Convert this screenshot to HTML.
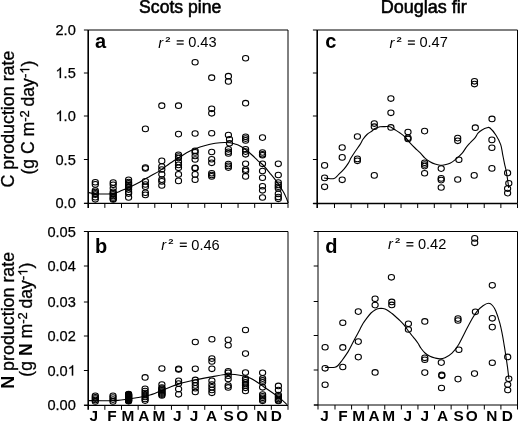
<!DOCTYPE html><html><head><meta charset="utf-8"><style>html,body{margin:0;padding:0;background:#fff;}svg{display:block;will-change:transform;}text{font-family:"Liberation Sans",sans-serif;fill:#000;} .t1{stroke:#000;stroke-width:0.55px;} .t2{stroke:#000;stroke-width:0.3px;} .t3{stroke:#000;stroke-width:0.25px;}</style></head><body>
<svg width="518" height="422" viewBox="0 0 518 422">
<rect width="518" height="422" fill="#fff"/>
<text class="t1" x="180.2" y="13.2" font-size="17.6" text-anchor="middle">Scots pine</text>
<text class="t1" x="423.85" y="13.2" font-size="18.0" text-anchor="middle">Douglas fir</text>
<g>
<text class="t2" transform="translate(14.40,119.05) rotate(-90)" font-size="17.85" text-anchor="middle">C production rate</text>
<text class="t2" transform="translate(33.90,117.60) rotate(-90)" font-size="17.6" text-anchor="middle">(g C m<tspan font-size="13" dy="-4.6">-2</tspan><tspan dy="4.6" dx="-1.2"> day</tspan><tspan font-size="13" dy="-4.6">-<tspan class="one1" style="fill:none;stroke:none">1</tspan></tspan><tspan dy="4.6">)</tspan></text>
<path transform="translate(33.90,117.60) rotate(-90) translate(43.830,-4.600) scale(13)" d="M0.375,0 L0.287,0 L0.287,-0.56 C0.266,-0.54 0.238,-0.52 0.204,-0.50 C0.170,-0.48 0.139,-0.465 0.112,-0.455 L0.112,-0.54 C0.16,-0.562 0.203,-0.590 0.239,-0.622 C0.275,-0.654 0.301,-0.686 0.316,-0.716 L0.375,-0.716 Z" fill="#000" stroke="#000" stroke-width="0.0231"/>
</g>
<g>
<text class="t2" transform="translate(13.80,320.30) rotate(-90)" font-size="17.85" text-anchor="middle"><tspan font-weight="bold" style="stroke-width:0">N</tspan> production rate</text>
<text class="t2" transform="translate(32.00,319.70) rotate(-90)" font-size="17.6" text-anchor="middle">(g <tspan font-weight="bold" style="stroke-width:0">N</tspan> m<tspan font-size="13" dy="-4.6">-2</tspan><tspan dy="4.6" dx="-1.2"> day</tspan><tspan font-size="13" dy="-4.6">-<tspan class="one1" style="fill:none;stroke:none">1</tspan></tspan><tspan dy="4.6">)</tspan></text>
<path transform="translate(32.00,319.70) rotate(-90) translate(43.845,-4.600) scale(13)" d="M0.375,0 L0.287,0 L0.287,-0.56 C0.266,-0.54 0.238,-0.52 0.204,-0.50 C0.170,-0.48 0.139,-0.465 0.112,-0.455 L0.112,-0.54 C0.16,-0.562 0.203,-0.590 0.239,-0.622 C0.275,-0.654 0.301,-0.686 0.316,-0.716 L0.375,-0.716 Z" fill="#000" stroke="#000" stroke-width="0.0231"/>
</g>
<path d="M88.20,30.00 H288.00 V203.40" fill="none" stroke="#000" stroke-width="1"/>
<path d="M88.20,30.00 V207.90" fill="none" stroke="#000" stroke-width="1.60"/>
<path d="M84.20,203.40 H288.00" fill="none" stroke="#000" stroke-width="1.30"/>
<path d="M83.90,203.40 H88.20" stroke="#000" stroke-width="1"/>
<path d="M83.90,159.50 H88.20" stroke="#000" stroke-width="1"/>
<path d="M83.90,116.00 H88.20" stroke="#000" stroke-width="1"/>
<path d="M83.90,73.00 H88.20" stroke="#000" stroke-width="1"/>
<path d="M83.90,30.00 H88.20" stroke="#000" stroke-width="1"/>
<path d="M104.85,203.40 V207.90" stroke="#000" stroke-width="1"/>
<path d="M121.50,203.40 V207.90" stroke="#000" stroke-width="1"/>
<path d="M138.15,203.40 V207.90" stroke="#000" stroke-width="1"/>
<path d="M154.80,203.40 V207.90" stroke="#000" stroke-width="1"/>
<path d="M171.45,203.40 V207.90" stroke="#000" stroke-width="1"/>
<path d="M188.10,203.40 V207.90" stroke="#000" stroke-width="1"/>
<path d="M204.75,203.40 V207.90" stroke="#000" stroke-width="1"/>
<path d="M221.40,203.40 V207.90" stroke="#000" stroke-width="1"/>
<path d="M238.05,203.40 V207.90" stroke="#000" stroke-width="1"/>
<path d="M254.70,203.40 V207.90" stroke="#000" stroke-width="1"/>
<path d="M271.35,203.40 V207.90" stroke="#000" stroke-width="1"/>
<path d="M288.00,203.40 V207.90" stroke="#000" stroke-width="1"/>
<path d="M88.20,231.50 H288.00 V405.30" fill="none" stroke="#000" stroke-width="1"/>
<path d="M88.20,231.50 V409.80" fill="none" stroke="#000" stroke-width="1.60"/>
<path d="M84.20,405.30 H288.00" fill="none" stroke="#000" stroke-width="1.30"/>
<path d="M83.90,405.20 H88.20" stroke="#000" stroke-width="1"/>
<path d="M83.90,370.50 H88.20" stroke="#000" stroke-width="1"/>
<path d="M83.90,336.00 H88.20" stroke="#000" stroke-width="1"/>
<path d="M83.90,302.00 H88.20" stroke="#000" stroke-width="1"/>
<path d="M83.90,266.00 H88.20" stroke="#000" stroke-width="1"/>
<path d="M83.90,231.50 H88.20" stroke="#000" stroke-width="1"/>
<path d="M104.85,405.30 V409.80" stroke="#000" stroke-width="1"/>
<path d="M121.50,405.30 V409.80" stroke="#000" stroke-width="1"/>
<path d="M138.15,405.30 V409.80" stroke="#000" stroke-width="1"/>
<path d="M154.80,405.30 V409.80" stroke="#000" stroke-width="1"/>
<path d="M171.45,405.30 V409.80" stroke="#000" stroke-width="1"/>
<path d="M188.10,405.30 V409.80" stroke="#000" stroke-width="1"/>
<path d="M204.75,405.30 V409.80" stroke="#000" stroke-width="1"/>
<path d="M221.40,405.30 V409.80" stroke="#000" stroke-width="1"/>
<path d="M238.05,405.30 V409.80" stroke="#000" stroke-width="1"/>
<path d="M254.70,405.30 V409.80" stroke="#000" stroke-width="1"/>
<path d="M271.35,405.30 V409.80" stroke="#000" stroke-width="1"/>
<path d="M288.00,405.30 V409.80" stroke="#000" stroke-width="1"/>
<path d="M317.20,30.00 H517.50 V203.50" fill="none" stroke="#000" stroke-width="1"/>
<path d="M317.20,30.00 V208.00" fill="none" stroke="#000" stroke-width="1.60"/>
<path d="M313.20,203.50 H517.50" fill="none" stroke="#000" stroke-width="1.30"/>
<path d="M312.90,203.50 H317.20" stroke="#000" stroke-width="1"/>
<path d="M312.90,159.50 H317.20" stroke="#000" stroke-width="1"/>
<path d="M312.90,116.00 H317.20" stroke="#000" stroke-width="1"/>
<path d="M312.90,73.00 H317.20" stroke="#000" stroke-width="1"/>
<path d="M312.90,30.00 H317.20" stroke="#000" stroke-width="1"/>
<path d="M334.49,203.50 V208.00" stroke="#000" stroke-width="1"/>
<path d="M351.12,203.50 V208.00" stroke="#000" stroke-width="1"/>
<path d="M367.76,203.50 V208.00" stroke="#000" stroke-width="1"/>
<path d="M384.40,203.50 V208.00" stroke="#000" stroke-width="1"/>
<path d="M401.04,203.50 V208.00" stroke="#000" stroke-width="1"/>
<path d="M417.68,203.50 V208.00" stroke="#000" stroke-width="1"/>
<path d="M434.31,203.50 V208.00" stroke="#000" stroke-width="1"/>
<path d="M450.95,203.50 V208.00" stroke="#000" stroke-width="1"/>
<path d="M467.59,203.50 V208.00" stroke="#000" stroke-width="1"/>
<path d="M484.23,203.50 V208.00" stroke="#000" stroke-width="1"/>
<path d="M500.86,203.50 V208.00" stroke="#000" stroke-width="1"/>
<path d="M517.50,203.50 V208.00" stroke="#000" stroke-width="1"/>
<path d="M318.00,231.50 H517.50 V405.00" fill="none" stroke="#000" stroke-width="1"/>
<path d="M318.00,231.50 V409.50" fill="none" stroke="#000" stroke-width="1.00"/>
<path d="M314.00,405.00 H517.50" fill="none" stroke="#000" stroke-width="1.00"/>
<path d="M313.70,405.00 H318.00" stroke="#000" stroke-width="1"/>
<path d="M313.70,370.00 H318.00" stroke="#000" stroke-width="1"/>
<path d="M313.70,335.50 H318.00" stroke="#000" stroke-width="1"/>
<path d="M313.70,301.50 H318.00" stroke="#000" stroke-width="1"/>
<path d="M313.70,266.00 H318.00" stroke="#000" stroke-width="1"/>
<path d="M313.70,231.50 H318.00" stroke="#000" stroke-width="1"/>
<path d="M334.99,405.00 V409.50" stroke="#000" stroke-width="1"/>
<path d="M351.58,405.00 V409.50" stroke="#000" stroke-width="1"/>
<path d="M368.17,405.00 V409.50" stroke="#000" stroke-width="1"/>
<path d="M384.77,405.00 V409.50" stroke="#000" stroke-width="1"/>
<path d="M401.36,405.00 V409.50" stroke="#000" stroke-width="1"/>
<path d="M417.95,405.00 V409.50" stroke="#000" stroke-width="1"/>
<path d="M434.54,405.00 V409.50" stroke="#000" stroke-width="1"/>
<path d="M451.13,405.00 V409.50" stroke="#000" stroke-width="1"/>
<path d="M467.73,405.00 V409.50" stroke="#000" stroke-width="1"/>
<path d="M484.32,405.00 V409.50" stroke="#000" stroke-width="1"/>
<path d="M500.91,405.00 V409.50" stroke="#000" stroke-width="1"/>
<path d="M517.50,405.00 V409.50" stroke="#000" stroke-width="1"/>
<text class="t3" x="55.51" y="208.45" font-size="14.60">0.0</text>
<text class="t3" x="55.51" y="164.55" font-size="14.60">0.5</text>
<path transform="translate(55.51,121.05) scale(14.600)" d="M0.375,0 L0.287,0 L0.287,-0.56 C0.266,-0.54 0.238,-0.52 0.204,-0.50 C0.170,-0.48 0.139,-0.465 0.112,-0.455 L0.112,-0.54 C0.16,-0.562 0.203,-0.590 0.239,-0.622 C0.275,-0.654 0.301,-0.686 0.316,-0.716 L0.375,-0.716 Z" fill="#000" stroke="#000" stroke-width="0.017"/>
<text class="t3" x="63.62" y="121.05" font-size="14.60">.0</text>
<path transform="translate(55.51,78.05) scale(14.600)" d="M0.375,0 L0.287,0 L0.287,-0.56 C0.266,-0.54 0.238,-0.52 0.204,-0.50 C0.170,-0.48 0.139,-0.465 0.112,-0.455 L0.112,-0.54 C0.16,-0.562 0.203,-0.590 0.239,-0.622 C0.275,-0.654 0.301,-0.686 0.316,-0.716 L0.375,-0.716 Z" fill="#000" stroke="#000" stroke-width="0.017"/>
<text class="t3" x="63.62" y="78.05" font-size="14.60">.5</text>
<text class="t3" x="55.51" y="35.05" font-size="14.60">2.0</text>
<text class="t3" x="47.39" y="410.30" font-size="14.60">0.00</text>
<text class="t3" x="47.39" y="375.60" font-size="14.60">0.0</text>
<path transform="translate(67.68,375.60) scale(14.600)" d="M0.375,0 L0.287,0 L0.287,-0.56 C0.266,-0.54 0.238,-0.52 0.204,-0.50 C0.170,-0.48 0.139,-0.465 0.112,-0.455 L0.112,-0.54 C0.16,-0.562 0.203,-0.590 0.239,-0.622 C0.275,-0.654 0.301,-0.686 0.316,-0.716 L0.375,-0.716 Z" fill="#000" stroke="#000" stroke-width="0.017"/>
<text class="t3" x="47.39" y="341.10" font-size="14.60">0.02</text>
<text class="t3" x="47.39" y="307.10" font-size="14.60">0.03</text>
<text class="t3" x="47.39" y="271.10" font-size="14.60">0.04</text>
<text class="t3" x="47.39" y="236.60" font-size="14.60">0.05</text>
<text x="93.80" y="421.4" font-size="15.4" font-weight="bold" text-anchor="middle">J</text>
<text x="111.90" y="421.4" font-size="15.4" font-weight="bold" text-anchor="middle">F</text>
<text x="127.85" y="421.4" font-size="15.4" font-weight="bold" text-anchor="middle">M</text>
<text x="143.70" y="421.4" font-size="15.4" font-weight="bold" text-anchor="middle">A</text>
<text x="159.00" y="421.4" font-size="15.4" font-weight="bold" text-anchor="middle">M</text>
<text x="177.40" y="421.4" font-size="15.4" font-weight="bold" text-anchor="middle">J</text>
<text x="194.00" y="421.4" font-size="15.4" font-weight="bold" text-anchor="middle">J</text>
<text x="211.60" y="421.4" font-size="15.4" font-weight="bold" text-anchor="middle">A</text>
<text x="228.70" y="421.4" font-size="15.4" font-weight="bold" text-anchor="middle">S</text>
<text x="242.20" y="421.4" font-size="15.4" font-weight="bold" text-anchor="middle">O</text>
<text x="261.80" y="421.4" font-size="15.4" font-weight="bold" text-anchor="middle">N</text>
<text x="276.35" y="421.4" font-size="15.4" font-weight="bold" text-anchor="middle">D</text>
<text x="324.50" y="421.4" font-size="15.4" font-weight="bold" text-anchor="middle">J</text>
<text x="342.90" y="421.4" font-size="15.4" font-weight="bold" text-anchor="middle">F</text>
<text x="358.70" y="421.4" font-size="15.4" font-weight="bold" text-anchor="middle">M</text>
<text x="373.95" y="421.4" font-size="15.4" font-weight="bold" text-anchor="middle">A</text>
<text x="388.60" y="421.4" font-size="15.4" font-weight="bold" text-anchor="middle">M</text>
<text x="407.90" y="421.4" font-size="15.4" font-weight="bold" text-anchor="middle">J</text>
<text x="424.70" y="421.4" font-size="15.4" font-weight="bold" text-anchor="middle">J</text>
<text x="442.60" y="421.4" font-size="15.4" font-weight="bold" text-anchor="middle">A</text>
<text x="458.70" y="421.4" font-size="15.4" font-weight="bold" text-anchor="middle">S</text>
<text x="471.65" y="421.4" font-size="15.4" font-weight="bold" text-anchor="middle">O</text>
<text x="491.80" y="421.4" font-size="15.4" font-weight="bold" text-anchor="middle">N</text>
<text x="507.20" y="421.4" font-size="15.4" font-weight="bold" text-anchor="middle">D</text>
<text x="95" y="47.5" font-size="20" font-weight="bold">a</text>
<text x="95" y="252.6" font-size="20" font-weight="bold">b</text>
<text x="325.3" y="47.8" font-size="20" font-weight="bold">c</text>
<text x="325.2" y="252.6" font-size="20" font-weight="bold">d</text>
<text x="158.20" y="47.60" font-size="14.6" font-style="italic">r</text><text x="0.00" y="41.60" font-size="7.6" font-weight="bold" transform="translate(165.20,0) scale(1.25,1)">2</text><rect x="176.70" y="40.25" width="7.0" height="1.25" fill="#000"/><rect x="176.70" y="43.45" width="7.0" height="1.25" fill="#000"/><text x="188.20" y="47.20" font-size="14.6">0.43</text>
<text x="161.30" y="249.90" font-size="14.6" font-style="italic">r</text><text x="0.00" y="243.90" font-size="7.6" font-weight="bold" transform="translate(168.30,0) scale(1.25,1)">2</text><rect x="179.80" y="242.55" width="7.0" height="1.25" fill="#000"/><rect x="179.80" y="245.75" width="7.0" height="1.25" fill="#000"/><text x="191.30" y="249.50" font-size="14.6">0.46</text>
<text x="389.40" y="47.70" font-size="14.6" font-style="italic">r</text><text x="0.00" y="41.70" font-size="7.6" font-weight="bold" transform="translate(396.40,0) scale(1.25,1)">2</text><rect x="407.90" y="40.35" width="7.0" height="1.25" fill="#000"/><rect x="407.90" y="43.55" width="7.0" height="1.25" fill="#000"/><text x="419.40" y="47.30" font-size="14.6">0.47</text>
<text x="387.90" y="249.40" font-size="14.6" font-style="italic">r</text><text x="0.00" y="243.40" font-size="7.6" font-weight="bold" transform="translate(394.90,0) scale(1.25,1)">2</text><rect x="406.40" y="242.05" width="7.0" height="1.25" fill="#000"/><rect x="406.40" y="245.25" width="7.0" height="1.25" fill="#000"/><text x="417.90" y="249.00" font-size="14.6">0.42</text>
<path d="M88.00,192.40 C88.83,192.58 91.00,193.23 93.00,193.50 C95.00,193.77 97.50,193.92 100.00,194.00 C102.50,194.08 105.83,194.07 108.00,194.00 C110.17,193.93 111.50,193.83 113.00,193.60 C114.50,193.37 115.83,192.98 117.00,192.60 C118.17,192.22 117.83,192.25 120.00,191.30 C122.17,190.35 126.67,188.47 130.00,186.90 C133.33,185.33 136.67,183.67 140.00,181.90 C143.33,180.13 146.67,178.18 150.00,176.30 C153.33,174.42 156.67,172.78 160.00,170.60 C163.33,168.42 166.67,165.48 170.00,163.20 C173.33,160.92 176.67,158.92 180.00,156.90 C183.33,154.88 186.67,152.73 190.00,151.10 C193.33,149.47 196.67,148.25 200.00,147.10 C203.33,145.95 206.67,144.93 210.00,144.20 C213.33,143.47 216.67,142.93 220.00,142.70 C223.33,142.47 227.33,142.53 230.00,142.80 C232.67,143.07 234.33,143.78 236.00,144.30 C237.67,144.82 238.50,145.12 240.00,145.90 C241.50,146.68 243.00,147.48 245.00,149.00 C247.00,150.52 249.83,153.03 252.00,155.00 C254.17,156.97 256.17,159.13 258.00,160.80 C259.83,162.47 261.00,162.92 263.00,165.00 C265.00,167.08 267.83,170.68 270.00,173.30 C272.17,175.92 274.33,178.50 276.00,180.70 C277.67,182.90 278.67,184.43 280.00,186.50 C281.33,188.57 282.83,190.90 284.00,193.10 C285.17,195.30 286.30,198.05 287.00,199.70 C287.70,201.35 288.00,202.45 288.20,203.00" fill="none" stroke="#000" stroke-width="1.1"/>
<path d="M88.00,400.60 C90.67,400.62 99.00,400.73 104.00,400.70 C109.00,400.67 112.83,400.85 118.00,400.40 C123.17,399.95 129.67,398.90 135.00,398.00 C140.33,397.10 144.50,396.68 150.00,395.00 C155.50,393.32 163.00,389.80 168.00,387.90 C173.00,386.00 175.50,384.92 180.00,383.60 C184.50,382.28 190.00,381.08 195.00,380.00 C200.00,378.92 205.00,378.02 210.00,377.10 C215.00,376.18 220.83,374.93 225.00,374.50 C229.17,374.07 230.83,373.93 235.00,374.50 C239.17,375.07 245.50,376.05 250.00,377.90 C254.50,379.75 257.33,382.48 262.00,385.60 C266.67,388.72 273.83,393.45 278.00,396.60 C282.17,399.75 285.50,403.18 287.00,404.50" fill="none" stroke="#000" stroke-width="1.1"/>
<path d="M324.00,178.00 C324.50,178.07 325.33,178.30 327.00,178.40 C328.67,178.50 332.12,179.20 334.00,178.60 C335.88,178.00 336.63,176.38 338.30,174.80 C339.97,173.22 342.35,171.00 344.00,169.10 C345.65,167.20 347.02,165.28 348.20,163.40 C349.38,161.52 349.97,159.75 351.10,157.80 C352.23,155.85 353.52,153.90 355.00,151.70 C356.48,149.50 358.67,146.67 360.00,144.60 C361.33,142.53 361.83,140.98 363.00,139.30 C364.17,137.62 365.50,135.88 367.00,134.50 C368.50,133.12 370.67,131.98 372.00,131.00 C373.33,130.02 373.67,129.30 375.00,128.60 C376.33,127.90 378.33,127.13 380.00,126.80 C381.67,126.47 383.33,126.60 385.00,126.60 C386.67,126.60 388.33,126.27 390.00,126.80 C391.67,127.33 393.33,128.77 395.00,129.80 C396.67,130.83 398.33,131.80 400.00,133.00 C401.67,134.20 403.33,135.37 405.00,137.00 C406.67,138.63 408.33,140.97 410.00,142.80 C411.67,144.63 413.33,146.37 415.00,148.00 C416.67,149.63 418.33,150.90 420.00,152.60 C421.67,154.30 423.33,156.68 425.00,158.20 C426.67,159.72 428.33,160.72 430.00,161.70 C431.67,162.68 433.33,163.50 435.00,164.10 C436.67,164.70 438.33,165.20 440.00,165.30 C441.67,165.40 443.33,165.05 445.00,164.70 C446.67,164.35 448.33,164.00 450.00,163.20 C451.67,162.40 453.00,161.53 455.00,159.90 C457.00,158.27 460.17,155.45 462.00,153.40 C463.83,151.35 464.67,149.33 466.00,147.60 C467.33,145.87 468.50,144.63 470.00,143.00 C471.50,141.37 473.67,139.43 475.00,137.80 C476.33,136.17 476.83,134.50 478.00,133.20 C479.17,131.90 480.50,130.90 482.00,130.00 C483.50,129.10 485.67,128.13 487.00,127.80 C488.33,127.47 488.50,126.77 490.00,128.00 C491.50,129.23 494.22,132.43 496.00,135.20 C497.78,137.97 499.60,141.45 500.70,144.60 C501.80,147.75 501.97,150.93 502.60,154.10 C503.23,157.27 503.87,160.60 504.50,163.60 C505.13,166.60 505.77,168.62 506.40,172.10 C507.03,175.58 507.92,181.85 508.30,184.50 C508.68,187.15 508.63,187.42 508.70,188.00" fill="none" stroke="#000" stroke-width="1.1"/>
<path d="M325.00,367.30 C325.83,367.33 328.33,367.52 330.00,367.50 C331.67,367.48 333.67,367.53 335.00,367.20 C336.33,366.87 336.83,366.62 338.00,365.50 C339.17,364.38 340.33,362.77 342.00,360.50 C343.67,358.23 346.33,354.60 348.00,351.90 C349.67,349.20 350.83,346.52 352.00,344.30 C353.17,342.08 353.67,341.12 355.00,338.60 C356.33,336.08 358.67,331.72 360.00,329.20 C361.33,326.68 361.83,325.40 363.00,323.50 C364.17,321.60 365.67,319.55 367.00,317.80 C368.33,316.05 369.67,314.32 371.00,313.00 C372.33,311.68 373.67,310.65 375.00,309.90 C376.33,309.15 377.67,308.73 379.00,308.50 C380.33,308.27 381.67,308.27 383.00,308.50 C384.33,308.73 385.50,309.07 387.00,309.90 C388.50,310.73 390.50,312.32 392.00,313.50 C393.50,314.68 394.67,315.82 396.00,317.00 C397.33,318.18 398.67,319.28 400.00,320.60 C401.33,321.92 402.67,323.25 404.00,324.90 C405.33,326.55 406.67,328.73 408.00,330.50 C409.33,332.27 410.83,334.07 412.00,335.50 C413.17,336.93 414.00,337.80 415.00,339.10 C416.00,340.40 417.00,341.77 418.00,343.30 C419.00,344.83 419.83,346.68 421.00,348.30 C422.17,349.92 423.50,351.67 425.00,353.00 C426.50,354.33 428.33,355.47 430.00,356.30 C431.67,357.13 433.33,357.57 435.00,358.00 C436.67,358.43 438.33,358.93 440.00,358.90 C441.67,358.87 443.00,358.77 445.00,357.80 C447.00,356.83 449.83,355.15 452.00,353.10 C454.17,351.05 455.83,348.98 458.00,345.50 C460.17,342.02 462.67,336.62 465.00,332.20 C467.33,327.78 470.00,322.47 472.00,319.00 C474.00,315.53 475.17,313.62 477.00,311.40 C478.83,309.18 481.05,307.05 483.00,305.70 C484.95,304.35 487.12,303.33 488.70,303.30 C490.28,303.27 491.32,304.22 492.50,305.50 C493.68,306.78 494.57,308.03 495.80,311.00 C497.03,313.97 498.80,319.32 499.90,323.30 C501.00,327.28 501.70,331.32 502.40,334.90 C503.10,338.48 503.55,341.48 504.10,344.80 C504.65,348.12 505.15,351.20 505.70,354.80 C506.25,358.40 506.92,362.82 507.40,366.40 C507.88,369.98 508.35,374.20 508.60,376.30 C508.85,378.40 508.85,378.55 508.90,379.00" fill="none" stroke="#000" stroke-width="1.1"/>
<ellipse cx="95.3" cy="182.2" rx="3.10" ry="2.80" fill="none" stroke="#000" stroke-width="1.05"/>
<ellipse cx="95.3" cy="184.4" rx="3.10" ry="2.80" fill="none" stroke="#000" stroke-width="1.05"/>
<ellipse cx="95.3" cy="190.6" rx="3.10" ry="2.80" fill="none" stroke="#000" stroke-width="1.05"/>
<ellipse cx="95.3" cy="192.0" rx="3.10" ry="2.80" fill="none" stroke="#000" stroke-width="1.05"/>
<ellipse cx="95.3" cy="193.4" rx="3.10" ry="2.80" fill="none" stroke="#000" stroke-width="1.05"/>
<ellipse cx="95.3" cy="194.6" rx="3.10" ry="2.80" fill="none" stroke="#000" stroke-width="1.05"/>
<ellipse cx="95.3" cy="197.2" rx="3.10" ry="2.80" fill="none" stroke="#000" stroke-width="1.05"/>
<ellipse cx="95.3" cy="199.3" rx="3.10" ry="2.80" fill="none" stroke="#000" stroke-width="1.05"/>
<ellipse cx="113.2" cy="182.5" rx="3.10" ry="2.80" fill="none" stroke="#000" stroke-width="1.05"/>
<ellipse cx="113.2" cy="184.8" rx="3.10" ry="2.80" fill="none" stroke="#000" stroke-width="1.05"/>
<ellipse cx="113.2" cy="188.3" rx="3.10" ry="2.80" fill="none" stroke="#000" stroke-width="1.05"/>
<ellipse cx="113.2" cy="191.8" rx="3.10" ry="2.80" fill="none" stroke="#000" stroke-width="1.05"/>
<ellipse cx="113.2" cy="193.2" rx="3.10" ry="2.80" fill="none" stroke="#000" stroke-width="1.05"/>
<ellipse cx="113.2" cy="194.6" rx="3.10" ry="2.80" fill="none" stroke="#000" stroke-width="1.05"/>
<ellipse cx="113.2" cy="196.0" rx="3.10" ry="2.80" fill="none" stroke="#000" stroke-width="1.05"/>
<ellipse cx="113.2" cy="197.4" rx="3.10" ry="2.80" fill="none" stroke="#000" stroke-width="1.05"/>
<ellipse cx="113.2" cy="198.8" rx="3.10" ry="2.80" fill="none" stroke="#000" stroke-width="1.05"/>
<ellipse cx="113.2" cy="199.4" rx="3.10" ry="2.80" fill="none" stroke="#000" stroke-width="1.05"/>
<ellipse cx="128.6" cy="179.8" rx="3.10" ry="2.80" fill="none" stroke="#000" stroke-width="1.05"/>
<ellipse cx="128.6" cy="182.0" rx="3.10" ry="2.80" fill="none" stroke="#000" stroke-width="1.05"/>
<ellipse cx="128.6" cy="183.4" rx="3.10" ry="2.80" fill="none" stroke="#000" stroke-width="1.05"/>
<ellipse cx="128.6" cy="184.8" rx="3.10" ry="2.80" fill="none" stroke="#000" stroke-width="1.05"/>
<ellipse cx="128.6" cy="186.2" rx="3.10" ry="2.80" fill="none" stroke="#000" stroke-width="1.05"/>
<ellipse cx="128.6" cy="187.6" rx="3.10" ry="2.80" fill="none" stroke="#000" stroke-width="1.05"/>
<ellipse cx="128.6" cy="189.6" rx="3.10" ry="2.80" fill="none" stroke="#000" stroke-width="1.05"/>
<ellipse cx="128.6" cy="192.0" rx="3.10" ry="2.80" fill="none" stroke="#000" stroke-width="1.05"/>
<ellipse cx="128.6" cy="193.6" rx="3.10" ry="2.80" fill="none" stroke="#000" stroke-width="1.05"/>
<ellipse cx="128.6" cy="197.4" rx="3.10" ry="2.80" fill="none" stroke="#000" stroke-width="1.05"/>
<ellipse cx="145.4" cy="128.9" rx="3.10" ry="2.80" fill="none" stroke="#000" stroke-width="1.05"/>
<ellipse cx="145.4" cy="167.6" rx="3.10" ry="2.80" fill="none" stroke="#000" stroke-width="1.05"/>
<ellipse cx="145.4" cy="168.5" rx="3.10" ry="2.80" fill="none" stroke="#000" stroke-width="1.05"/>
<ellipse cx="145.4" cy="181.3" rx="3.10" ry="2.80" fill="none" stroke="#000" stroke-width="1.05"/>
<ellipse cx="145.4" cy="184.5" rx="3.10" ry="2.80" fill="none" stroke="#000" stroke-width="1.05"/>
<ellipse cx="145.4" cy="186.7" rx="3.10" ry="2.80" fill="none" stroke="#000" stroke-width="1.05"/>
<ellipse cx="145.4" cy="192.7" rx="3.10" ry="2.80" fill="none" stroke="#000" stroke-width="1.05"/>
<ellipse cx="145.4" cy="194.9" rx="3.10" ry="2.80" fill="none" stroke="#000" stroke-width="1.05"/>
<ellipse cx="161.8" cy="105.7" rx="3.10" ry="2.80" fill="none" stroke="#000" stroke-width="1.05"/>
<ellipse cx="161.8" cy="160.9" rx="3.10" ry="2.80" fill="none" stroke="#000" stroke-width="1.05"/>
<ellipse cx="161.8" cy="166.5" rx="3.10" ry="2.80" fill="none" stroke="#000" stroke-width="1.05"/>
<ellipse cx="161.8" cy="169.5" rx="3.10" ry="2.80" fill="none" stroke="#000" stroke-width="1.05"/>
<ellipse cx="161.8" cy="174.3" rx="3.10" ry="2.80" fill="none" stroke="#000" stroke-width="1.05"/>
<ellipse cx="161.8" cy="179.6" rx="3.10" ry="2.80" fill="none" stroke="#000" stroke-width="1.05"/>
<ellipse cx="161.8" cy="181.4" rx="3.10" ry="2.80" fill="none" stroke="#000" stroke-width="1.05"/>
<ellipse cx="161.8" cy="185.5" rx="3.10" ry="2.80" fill="none" stroke="#000" stroke-width="1.05"/>
<ellipse cx="178.5" cy="105.7" rx="3.10" ry="2.80" fill="none" stroke="#000" stroke-width="1.05"/>
<ellipse cx="178.5" cy="134.1" rx="3.10" ry="2.80" fill="none" stroke="#000" stroke-width="1.05"/>
<ellipse cx="178.5" cy="154.8" rx="3.10" ry="2.80" fill="none" stroke="#000" stroke-width="1.05"/>
<ellipse cx="178.5" cy="156.5" rx="3.10" ry="2.80" fill="none" stroke="#000" stroke-width="1.05"/>
<ellipse cx="178.5" cy="158.0" rx="3.10" ry="2.80" fill="none" stroke="#000" stroke-width="1.05"/>
<ellipse cx="178.5" cy="161.9" rx="3.10" ry="2.80" fill="none" stroke="#000" stroke-width="1.05"/>
<ellipse cx="178.5" cy="164.9" rx="3.10" ry="2.80" fill="none" stroke="#000" stroke-width="1.05"/>
<ellipse cx="178.5" cy="167.8" rx="3.10" ry="2.80" fill="none" stroke="#000" stroke-width="1.05"/>
<ellipse cx="178.5" cy="174.4" rx="3.10" ry="2.80" fill="none" stroke="#000" stroke-width="1.05"/>
<ellipse cx="178.5" cy="180.9" rx="3.10" ry="2.80" fill="none" stroke="#000" stroke-width="1.05"/>
<ellipse cx="195.1" cy="62.2" rx="3.10" ry="2.80" fill="none" stroke="#000" stroke-width="1.05"/>
<ellipse cx="195.1" cy="133.5" rx="3.10" ry="2.80" fill="none" stroke="#000" stroke-width="1.05"/>
<ellipse cx="195.1" cy="150.7" rx="3.10" ry="2.80" fill="none" stroke="#000" stroke-width="1.05"/>
<ellipse cx="195.1" cy="152.4" rx="3.10" ry="2.80" fill="none" stroke="#000" stroke-width="1.05"/>
<ellipse cx="195.1" cy="156.0" rx="3.10" ry="2.80" fill="none" stroke="#000" stroke-width="1.05"/>
<ellipse cx="195.1" cy="159.5" rx="3.10" ry="2.80" fill="none" stroke="#000" stroke-width="1.05"/>
<ellipse cx="195.1" cy="167.8" rx="3.10" ry="2.80" fill="none" stroke="#000" stroke-width="1.05"/>
<ellipse cx="195.1" cy="168.4" rx="3.10" ry="2.80" fill="none" stroke="#000" stroke-width="1.05"/>
<ellipse cx="195.1" cy="174.4" rx="3.10" ry="2.80" fill="none" stroke="#000" stroke-width="1.05"/>
<ellipse cx="195.1" cy="179.7" rx="3.10" ry="2.80" fill="none" stroke="#000" stroke-width="1.05"/>
<ellipse cx="211.7" cy="77.7" rx="3.10" ry="2.80" fill="none" stroke="#000" stroke-width="1.05"/>
<ellipse cx="211.7" cy="108.8" rx="3.10" ry="2.80" fill="none" stroke="#000" stroke-width="1.05"/>
<ellipse cx="211.7" cy="113.3" rx="3.10" ry="2.80" fill="none" stroke="#000" stroke-width="1.05"/>
<ellipse cx="211.7" cy="133.2" rx="3.10" ry="2.80" fill="none" stroke="#000" stroke-width="1.05"/>
<ellipse cx="211.7" cy="152.0" rx="3.10" ry="2.80" fill="none" stroke="#000" stroke-width="1.05"/>
<ellipse cx="211.7" cy="159.2" rx="3.10" ry="2.80" fill="none" stroke="#000" stroke-width="1.05"/>
<ellipse cx="211.7" cy="162.8" rx="3.10" ry="2.80" fill="none" stroke="#000" stroke-width="1.05"/>
<ellipse cx="211.7" cy="173.2" rx="3.10" ry="2.80" fill="none" stroke="#000" stroke-width="1.05"/>
<ellipse cx="211.7" cy="175.0" rx="3.10" ry="2.80" fill="none" stroke="#000" stroke-width="1.05"/>
<ellipse cx="211.7" cy="176.4" rx="3.10" ry="2.80" fill="none" stroke="#000" stroke-width="1.05"/>
<ellipse cx="228.4" cy="76.2" rx="3.10" ry="2.80" fill="none" stroke="#000" stroke-width="1.05"/>
<ellipse cx="228.4" cy="81.4" rx="3.10" ry="2.80" fill="none" stroke="#000" stroke-width="1.05"/>
<ellipse cx="228.4" cy="135.0" rx="3.10" ry="2.80" fill="none" stroke="#000" stroke-width="1.05"/>
<ellipse cx="228.4" cy="149.3" rx="3.10" ry="2.80" fill="none" stroke="#000" stroke-width="1.05"/>
<ellipse cx="228.4" cy="151.7" rx="3.10" ry="2.80" fill="none" stroke="#000" stroke-width="1.05"/>
<ellipse cx="228.4" cy="153.4" rx="3.10" ry="2.80" fill="none" stroke="#000" stroke-width="1.05"/>
<ellipse cx="228.4" cy="164.1" rx="3.10" ry="2.80" fill="none" stroke="#000" stroke-width="1.05"/>
<ellipse cx="228.4" cy="165.9" rx="3.10" ry="2.80" fill="none" stroke="#000" stroke-width="1.05"/>
<ellipse cx="228.4" cy="167.6" rx="3.10" ry="2.80" fill="none" stroke="#000" stroke-width="1.05"/>
<ellipse cx="229.5" cy="139.3" rx="3.10" ry="2.80" fill="none" stroke="#000" stroke-width="1.05"/>
<ellipse cx="229.5" cy="143.3" rx="3.10" ry="2.80" fill="none" stroke="#000" stroke-width="1.05"/>
<ellipse cx="245.6" cy="58.2" rx="3.10" ry="2.80" fill="none" stroke="#000" stroke-width="1.05"/>
<ellipse cx="245.6" cy="103.2" rx="3.10" ry="2.80" fill="none" stroke="#000" stroke-width="1.05"/>
<ellipse cx="245.6" cy="136.8" rx="3.10" ry="2.80" fill="none" stroke="#000" stroke-width="1.05"/>
<ellipse cx="245.6" cy="138.6" rx="3.10" ry="2.80" fill="none" stroke="#000" stroke-width="1.05"/>
<ellipse cx="245.6" cy="140.4" rx="3.10" ry="2.80" fill="none" stroke="#000" stroke-width="1.05"/>
<ellipse cx="245.6" cy="149.4" rx="3.10" ry="2.80" fill="none" stroke="#000" stroke-width="1.05"/>
<ellipse cx="245.6" cy="151.6" rx="3.10" ry="2.80" fill="none" stroke="#000" stroke-width="1.05"/>
<ellipse cx="245.6" cy="154.3" rx="3.10" ry="2.80" fill="none" stroke="#000" stroke-width="1.05"/>
<ellipse cx="245.6" cy="163.8" rx="3.10" ry="2.80" fill="none" stroke="#000" stroke-width="1.05"/>
<ellipse cx="245.6" cy="169.6" rx="3.10" ry="2.80" fill="none" stroke="#000" stroke-width="1.05"/>
<ellipse cx="245.6" cy="171.0" rx="3.10" ry="2.80" fill="none" stroke="#000" stroke-width="1.05"/>
<ellipse cx="245.6" cy="176.4" rx="3.10" ry="2.80" fill="none" stroke="#000" stroke-width="1.05"/>
<ellipse cx="262.5" cy="137.6" rx="3.10" ry="2.80" fill="none" stroke="#000" stroke-width="1.05"/>
<ellipse cx="262.5" cy="152.5" rx="3.10" ry="2.80" fill="none" stroke="#000" stroke-width="1.05"/>
<ellipse cx="262.5" cy="154.3" rx="3.10" ry="2.80" fill="none" stroke="#000" stroke-width="1.05"/>
<ellipse cx="262.5" cy="155.2" rx="3.10" ry="2.80" fill="none" stroke="#000" stroke-width="1.05"/>
<ellipse cx="262.5" cy="163.8" rx="3.10" ry="2.80" fill="none" stroke="#000" stroke-width="1.05"/>
<ellipse cx="262.5" cy="171.0" rx="3.10" ry="2.80" fill="none" stroke="#000" stroke-width="1.05"/>
<ellipse cx="262.5" cy="177.7" rx="3.10" ry="2.80" fill="none" stroke="#000" stroke-width="1.05"/>
<ellipse cx="262.5" cy="186.2" rx="3.10" ry="2.80" fill="none" stroke="#000" stroke-width="1.05"/>
<ellipse cx="262.5" cy="190.3" rx="3.10" ry="2.80" fill="none" stroke="#000" stroke-width="1.05"/>
<ellipse cx="262.5" cy="197.5" rx="3.10" ry="2.80" fill="none" stroke="#000" stroke-width="1.05"/>
<ellipse cx="278.3" cy="163.8" rx="3.10" ry="2.80" fill="none" stroke="#000" stroke-width="1.05"/>
<ellipse cx="278.3" cy="175.0" rx="3.10" ry="2.80" fill="none" stroke="#000" stroke-width="1.05"/>
<ellipse cx="278.3" cy="182.6" rx="3.10" ry="2.80" fill="none" stroke="#000" stroke-width="1.05"/>
<ellipse cx="278.3" cy="184.9" rx="3.10" ry="2.80" fill="none" stroke="#000" stroke-width="1.05"/>
<ellipse cx="278.3" cy="186.7" rx="3.10" ry="2.80" fill="none" stroke="#000" stroke-width="1.05"/>
<ellipse cx="278.3" cy="188.5" rx="3.10" ry="2.80" fill="none" stroke="#000" stroke-width="1.05"/>
<ellipse cx="278.3" cy="193.9" rx="3.10" ry="2.80" fill="none" stroke="#000" stroke-width="1.05"/>
<ellipse cx="278.3" cy="197.0" rx="3.10" ry="2.80" fill="none" stroke="#000" stroke-width="1.05"/>
<ellipse cx="278.3" cy="198.8" rx="3.10" ry="2.80" fill="none" stroke="#000" stroke-width="1.05"/>
<ellipse cx="95.3" cy="395.8" rx="3.10" ry="2.80" fill="none" stroke="#000" stroke-width="1.05"/>
<ellipse cx="95.3" cy="397.2" rx="3.10" ry="2.80" fill="none" stroke="#000" stroke-width="1.05"/>
<ellipse cx="95.3" cy="398.6" rx="3.10" ry="2.80" fill="none" stroke="#000" stroke-width="1.05"/>
<ellipse cx="95.3" cy="400.0" rx="3.10" ry="2.80" fill="none" stroke="#000" stroke-width="1.05"/>
<ellipse cx="95.3" cy="401.4" rx="3.10" ry="2.80" fill="none" stroke="#000" stroke-width="1.05"/>
<ellipse cx="113.0" cy="395.8" rx="3.10" ry="2.80" fill="none" stroke="#000" stroke-width="1.05"/>
<ellipse cx="113.0" cy="397.6" rx="3.10" ry="2.80" fill="none" stroke="#000" stroke-width="1.05"/>
<ellipse cx="113.0" cy="399.6" rx="3.10" ry="2.80" fill="none" stroke="#000" stroke-width="1.05"/>
<ellipse cx="113.0" cy="401.4" rx="3.10" ry="2.80" fill="none" stroke="#000" stroke-width="1.05"/>
<ellipse cx="128.6" cy="394.0" rx="3.10" ry="2.80" fill="none" stroke="#000" stroke-width="1.05"/>
<ellipse cx="128.6" cy="394.4" rx="3.10" ry="2.80" fill="none" stroke="#000" stroke-width="1.05"/>
<ellipse cx="128.6" cy="394.9" rx="3.10" ry="2.80" fill="none" stroke="#000" stroke-width="1.05"/>
<ellipse cx="128.6" cy="395.4" rx="3.10" ry="2.80" fill="none" stroke="#000" stroke-width="1.05"/>
<ellipse cx="128.6" cy="395.8" rx="3.10" ry="2.80" fill="none" stroke="#000" stroke-width="1.05"/>
<ellipse cx="128.6" cy="396.2" rx="3.10" ry="2.80" fill="none" stroke="#000" stroke-width="1.05"/>
<ellipse cx="128.6" cy="396.7" rx="3.10" ry="2.80" fill="none" stroke="#000" stroke-width="1.05"/>
<ellipse cx="128.6" cy="397.1" rx="3.10" ry="2.80" fill="none" stroke="#000" stroke-width="1.05"/>
<ellipse cx="128.6" cy="397.6" rx="3.10" ry="2.80" fill="none" stroke="#000" stroke-width="1.05"/>
<ellipse cx="128.6" cy="398.1" rx="3.10" ry="2.80" fill="none" stroke="#000" stroke-width="1.05"/>
<ellipse cx="128.6" cy="398.5" rx="3.10" ry="2.80" fill="none" stroke="#000" stroke-width="1.05"/>
<ellipse cx="128.6" cy="398.9" rx="3.10" ry="2.80" fill="none" stroke="#000" stroke-width="1.05"/>
<ellipse cx="128.6" cy="399.4" rx="3.10" ry="2.80" fill="none" stroke="#000" stroke-width="1.05"/>
<ellipse cx="128.6" cy="399.9" rx="3.10" ry="2.80" fill="none" stroke="#000" stroke-width="1.05"/>
<ellipse cx="128.6" cy="400.3" rx="3.10" ry="2.80" fill="none" stroke="#000" stroke-width="1.05"/>
<ellipse cx="128.6" cy="400.8" rx="3.10" ry="2.80" fill="none" stroke="#000" stroke-width="1.05"/>
<ellipse cx="128.6" cy="401.2" rx="3.10" ry="2.80" fill="none" stroke="#000" stroke-width="1.05"/>
<ellipse cx="145.1" cy="377.4" rx="3.10" ry="2.80" fill="none" stroke="#000" stroke-width="1.05"/>
<ellipse cx="145.1" cy="388.8" rx="3.10" ry="2.80" fill="none" stroke="#000" stroke-width="1.05"/>
<ellipse cx="145.1" cy="391.0" rx="3.10" ry="2.80" fill="none" stroke="#000" stroke-width="1.05"/>
<ellipse cx="145.1" cy="393.0" rx="3.10" ry="2.80" fill="none" stroke="#000" stroke-width="1.05"/>
<ellipse cx="145.1" cy="395.0" rx="3.10" ry="2.80" fill="none" stroke="#000" stroke-width="1.05"/>
<ellipse cx="145.1" cy="397.0" rx="3.10" ry="2.80" fill="none" stroke="#000" stroke-width="1.05"/>
<ellipse cx="145.1" cy="399.0" rx="3.10" ry="2.80" fill="none" stroke="#000" stroke-width="1.05"/>
<ellipse cx="145.1" cy="400.6" rx="3.10" ry="2.80" fill="none" stroke="#000" stroke-width="1.05"/>
<ellipse cx="161.9" cy="368.5" rx="3.10" ry="2.80" fill="none" stroke="#000" stroke-width="1.05"/>
<ellipse cx="161.9" cy="384.6" rx="3.10" ry="2.80" fill="none" stroke="#000" stroke-width="1.05"/>
<ellipse cx="161.9" cy="387.6" rx="3.10" ry="2.80" fill="none" stroke="#000" stroke-width="1.05"/>
<ellipse cx="161.9" cy="388.6" rx="3.10" ry="2.80" fill="none" stroke="#000" stroke-width="1.05"/>
<ellipse cx="161.9" cy="389.6" rx="3.10" ry="2.80" fill="none" stroke="#000" stroke-width="1.05"/>
<ellipse cx="161.9" cy="390.6" rx="3.10" ry="2.80" fill="none" stroke="#000" stroke-width="1.05"/>
<ellipse cx="161.9" cy="391.6" rx="3.10" ry="2.80" fill="none" stroke="#000" stroke-width="1.05"/>
<ellipse cx="161.9" cy="392.6" rx="3.10" ry="2.80" fill="none" stroke="#000" stroke-width="1.05"/>
<ellipse cx="161.9" cy="393.6" rx="3.10" ry="2.80" fill="none" stroke="#000" stroke-width="1.05"/>
<ellipse cx="161.9" cy="394.6" rx="3.10" ry="2.80" fill="none" stroke="#000" stroke-width="1.05"/>
<ellipse cx="161.9" cy="395.4" rx="3.10" ry="2.80" fill="none" stroke="#000" stroke-width="1.05"/>
<ellipse cx="178.6" cy="368.8" rx="3.10" ry="2.80" fill="none" stroke="#000" stroke-width="1.05"/>
<ellipse cx="178.6" cy="369.5" rx="3.10" ry="2.80" fill="none" stroke="#000" stroke-width="1.05"/>
<ellipse cx="178.6" cy="380.8" rx="3.10" ry="2.80" fill="none" stroke="#000" stroke-width="1.05"/>
<ellipse cx="178.6" cy="383.6" rx="3.10" ry="2.80" fill="none" stroke="#000" stroke-width="1.05"/>
<ellipse cx="178.6" cy="389.1" rx="3.10" ry="2.80" fill="none" stroke="#000" stroke-width="1.05"/>
<ellipse cx="178.6" cy="394.3" rx="3.10" ry="2.80" fill="none" stroke="#000" stroke-width="1.05"/>
<ellipse cx="195.3" cy="342.0" rx="3.10" ry="2.80" fill="none" stroke="#000" stroke-width="1.05"/>
<ellipse cx="195.3" cy="368.8" rx="3.10" ry="2.80" fill="none" stroke="#000" stroke-width="1.05"/>
<ellipse cx="195.3" cy="379.9" rx="3.10" ry="2.80" fill="none" stroke="#000" stroke-width="1.05"/>
<ellipse cx="195.3" cy="382.6" rx="3.10" ry="2.80" fill="none" stroke="#000" stroke-width="1.05"/>
<ellipse cx="195.3" cy="385.4" rx="3.10" ry="2.80" fill="none" stroke="#000" stroke-width="1.05"/>
<ellipse cx="195.3" cy="388.2" rx="3.10" ry="2.80" fill="none" stroke="#000" stroke-width="1.05"/>
<ellipse cx="195.3" cy="391.9" rx="3.10" ry="2.80" fill="none" stroke="#000" stroke-width="1.05"/>
<ellipse cx="211.9" cy="339.2" rx="3.10" ry="2.80" fill="none" stroke="#000" stroke-width="1.05"/>
<ellipse cx="211.9" cy="358.6" rx="3.10" ry="2.80" fill="none" stroke="#000" stroke-width="1.05"/>
<ellipse cx="211.9" cy="361.4" rx="3.10" ry="2.80" fill="none" stroke="#000" stroke-width="1.05"/>
<ellipse cx="211.9" cy="368.8" rx="3.10" ry="2.80" fill="none" stroke="#000" stroke-width="1.05"/>
<ellipse cx="211.9" cy="380.8" rx="3.10" ry="2.80" fill="none" stroke="#000" stroke-width="1.05"/>
<ellipse cx="211.9" cy="384.5" rx="3.10" ry="2.80" fill="none" stroke="#000" stroke-width="1.05"/>
<ellipse cx="211.9" cy="387.3" rx="3.10" ry="2.80" fill="none" stroke="#000" stroke-width="1.05"/>
<ellipse cx="211.9" cy="390.0" rx="3.10" ry="2.80" fill="none" stroke="#000" stroke-width="1.05"/>
<ellipse cx="211.9" cy="392.8" rx="3.10" ry="2.80" fill="none" stroke="#000" stroke-width="1.05"/>
<ellipse cx="228.2" cy="339.7" rx="3.10" ry="2.80" fill="none" stroke="#000" stroke-width="1.05"/>
<ellipse cx="228.2" cy="345.2" rx="3.10" ry="2.80" fill="none" stroke="#000" stroke-width="1.05"/>
<ellipse cx="228.2" cy="371.3" rx="3.10" ry="2.80" fill="none" stroke="#000" stroke-width="1.05"/>
<ellipse cx="228.2" cy="372.8" rx="3.10" ry="2.80" fill="none" stroke="#000" stroke-width="1.05"/>
<ellipse cx="228.2" cy="375.7" rx="3.10" ry="2.80" fill="none" stroke="#000" stroke-width="1.05"/>
<ellipse cx="228.2" cy="379.0" rx="3.10" ry="2.80" fill="none" stroke="#000" stroke-width="1.05"/>
<ellipse cx="228.2" cy="385.6" rx="3.10" ry="2.80" fill="none" stroke="#000" stroke-width="1.05"/>
<ellipse cx="228.2" cy="387.4" rx="3.10" ry="2.80" fill="none" stroke="#000" stroke-width="1.05"/>
<ellipse cx="245.5" cy="330.0" rx="3.10" ry="2.80" fill="none" stroke="#000" stroke-width="1.05"/>
<ellipse cx="245.5" cy="353.6" rx="3.10" ry="2.80" fill="none" stroke="#000" stroke-width="1.05"/>
<ellipse cx="245.5" cy="372.5" rx="3.10" ry="2.80" fill="none" stroke="#000" stroke-width="1.05"/>
<ellipse cx="245.5" cy="378.6" rx="3.10" ry="2.80" fill="none" stroke="#000" stroke-width="1.05"/>
<ellipse cx="245.5" cy="380.2" rx="3.10" ry="2.80" fill="none" stroke="#000" stroke-width="1.05"/>
<ellipse cx="245.5" cy="382.3" rx="3.10" ry="2.80" fill="none" stroke="#000" stroke-width="1.05"/>
<ellipse cx="245.5" cy="384.0" rx="3.10" ry="2.80" fill="none" stroke="#000" stroke-width="1.05"/>
<ellipse cx="245.5" cy="385.6" rx="3.10" ry="2.80" fill="none" stroke="#000" stroke-width="1.05"/>
<ellipse cx="245.5" cy="387.8" rx="3.10" ry="2.80" fill="none" stroke="#000" stroke-width="1.05"/>
<ellipse cx="245.5" cy="391.0" rx="3.10" ry="2.80" fill="none" stroke="#000" stroke-width="1.05"/>
<ellipse cx="262.6" cy="372.7" rx="3.10" ry="2.80" fill="none" stroke="#000" stroke-width="1.05"/>
<ellipse cx="262.6" cy="378.6" rx="3.10" ry="2.80" fill="none" stroke="#000" stroke-width="1.05"/>
<ellipse cx="262.6" cy="380.4" rx="3.10" ry="2.80" fill="none" stroke="#000" stroke-width="1.05"/>
<ellipse cx="262.6" cy="382.2" rx="3.10" ry="2.80" fill="none" stroke="#000" stroke-width="1.05"/>
<ellipse cx="262.6" cy="387.3" rx="3.10" ry="2.80" fill="none" stroke="#000" stroke-width="1.05"/>
<ellipse cx="262.6" cy="394.6" rx="3.10" ry="2.80" fill="none" stroke="#000" stroke-width="1.05"/>
<ellipse cx="262.6" cy="396.2" rx="3.10" ry="2.80" fill="none" stroke="#000" stroke-width="1.05"/>
<ellipse cx="262.6" cy="397.8" rx="3.10" ry="2.80" fill="none" stroke="#000" stroke-width="1.05"/>
<ellipse cx="262.6" cy="399.4" rx="3.10" ry="2.80" fill="none" stroke="#000" stroke-width="1.05"/>
<ellipse cx="262.6" cy="400.8" rx="3.10" ry="2.80" fill="none" stroke="#000" stroke-width="1.05"/>
<ellipse cx="278.4" cy="385.9" rx="3.10" ry="2.80" fill="none" stroke="#000" stroke-width="1.05"/>
<ellipse cx="278.4" cy="390.0" rx="3.10" ry="2.80" fill="none" stroke="#000" stroke-width="1.05"/>
<ellipse cx="278.4" cy="395.0" rx="3.10" ry="2.80" fill="none" stroke="#000" stroke-width="1.05"/>
<ellipse cx="278.4" cy="396.3" rx="3.10" ry="2.80" fill="none" stroke="#000" stroke-width="1.05"/>
<ellipse cx="278.4" cy="397.6" rx="3.10" ry="2.80" fill="none" stroke="#000" stroke-width="1.05"/>
<ellipse cx="278.4" cy="398.9" rx="3.10" ry="2.80" fill="none" stroke="#000" stroke-width="1.05"/>
<ellipse cx="278.4" cy="400.2" rx="3.10" ry="2.80" fill="none" stroke="#000" stroke-width="1.05"/>
<ellipse cx="278.4" cy="401.0" rx="3.10" ry="2.80" fill="none" stroke="#000" stroke-width="1.05"/>
<ellipse cx="324.6" cy="165.4" rx="3.10" ry="2.80" fill="none" stroke="#000" stroke-width="1.05"/>
<ellipse cx="324.6" cy="177.9" rx="3.10" ry="2.80" fill="none" stroke="#000" stroke-width="1.05"/>
<ellipse cx="324.6" cy="186.8" rx="3.10" ry="2.80" fill="none" stroke="#000" stroke-width="1.05"/>
<ellipse cx="342.2" cy="147.5" rx="3.10" ry="2.80" fill="none" stroke="#000" stroke-width="1.05"/>
<ellipse cx="342.2" cy="157.4" rx="3.10" ry="2.80" fill="none" stroke="#000" stroke-width="1.05"/>
<ellipse cx="342.2" cy="179.8" rx="3.10" ry="2.80" fill="none" stroke="#000" stroke-width="1.05"/>
<ellipse cx="357.4" cy="136.5" rx="3.10" ry="2.80" fill="none" stroke="#000" stroke-width="1.05"/>
<ellipse cx="357.4" cy="158.9" rx="3.10" ry="2.80" fill="none" stroke="#000" stroke-width="1.05"/>
<ellipse cx="357.4" cy="160.8" rx="3.10" ry="2.80" fill="none" stroke="#000" stroke-width="1.05"/>
<ellipse cx="374.3" cy="123.6" rx="3.10" ry="2.80" fill="none" stroke="#000" stroke-width="1.05"/>
<ellipse cx="374.3" cy="126.7" rx="3.10" ry="2.80" fill="none" stroke="#000" stroke-width="1.05"/>
<ellipse cx="374.3" cy="175.4" rx="3.10" ry="2.80" fill="none" stroke="#000" stroke-width="1.05"/>
<ellipse cx="390.9" cy="98.6" rx="3.10" ry="2.80" fill="none" stroke="#000" stroke-width="1.05"/>
<ellipse cx="390.9" cy="112.8" rx="3.10" ry="2.80" fill="none" stroke="#000" stroke-width="1.05"/>
<ellipse cx="390.9" cy="127.4" rx="3.10" ry="2.80" fill="none" stroke="#000" stroke-width="1.05"/>
<ellipse cx="408.0" cy="132.0" rx="3.10" ry="2.80" fill="none" stroke="#000" stroke-width="1.05"/>
<ellipse cx="408.0" cy="137.7" rx="3.10" ry="2.80" fill="none" stroke="#000" stroke-width="1.05"/>
<ellipse cx="408.0" cy="139.0" rx="3.10" ry="2.80" fill="none" stroke="#000" stroke-width="1.05"/>
<ellipse cx="424.6" cy="131.1" rx="3.10" ry="2.80" fill="none" stroke="#000" stroke-width="1.05"/>
<ellipse cx="424.6" cy="162.7" rx="3.10" ry="2.80" fill="none" stroke="#000" stroke-width="1.05"/>
<ellipse cx="424.6" cy="164.5" rx="3.10" ry="2.80" fill="none" stroke="#000" stroke-width="1.05"/>
<ellipse cx="424.6" cy="166.1" rx="3.10" ry="2.80" fill="none" stroke="#000" stroke-width="1.05"/>
<ellipse cx="424.6" cy="173.2" rx="3.10" ry="2.80" fill="none" stroke="#000" stroke-width="1.05"/>
<ellipse cx="441.2" cy="168.6" rx="3.10" ry="2.80" fill="none" stroke="#000" stroke-width="1.05"/>
<ellipse cx="441.2" cy="178.4" rx="3.10" ry="2.80" fill="none" stroke="#000" stroke-width="1.05"/>
<ellipse cx="441.2" cy="180.1" rx="3.10" ry="2.80" fill="none" stroke="#000" stroke-width="1.05"/>
<ellipse cx="441.2" cy="187.5" rx="3.10" ry="2.80" fill="none" stroke="#000" stroke-width="1.05"/>
<ellipse cx="457.7" cy="138.1" rx="3.10" ry="2.80" fill="none" stroke="#000" stroke-width="1.05"/>
<ellipse cx="457.7" cy="140.8" rx="3.10" ry="2.80" fill="none" stroke="#000" stroke-width="1.05"/>
<ellipse cx="458.9" cy="159.7" rx="3.10" ry="2.80" fill="none" stroke="#000" stroke-width="1.05"/>
<ellipse cx="457.7" cy="179.5" rx="3.10" ry="2.80" fill="none" stroke="#000" stroke-width="1.05"/>
<ellipse cx="474.5" cy="81.3" rx="3.10" ry="2.80" fill="none" stroke="#000" stroke-width="1.05"/>
<ellipse cx="474.5" cy="84.1" rx="3.10" ry="2.80" fill="none" stroke="#000" stroke-width="1.05"/>
<ellipse cx="475.3" cy="127.7" rx="3.10" ry="2.80" fill="none" stroke="#000" stroke-width="1.05"/>
<ellipse cx="474.2" cy="175.4" rx="3.10" ry="2.80" fill="none" stroke="#000" stroke-width="1.05"/>
<ellipse cx="492.0" cy="118.9" rx="3.10" ry="2.80" fill="none" stroke="#000" stroke-width="1.05"/>
<ellipse cx="491.9" cy="139.9" rx="3.10" ry="2.80" fill="none" stroke="#000" stroke-width="1.05"/>
<ellipse cx="491.9" cy="147.7" rx="3.10" ry="2.80" fill="none" stroke="#000" stroke-width="1.05"/>
<ellipse cx="491.9" cy="168.4" rx="3.10" ry="2.80" fill="none" stroke="#000" stroke-width="1.05"/>
<ellipse cx="507.6" cy="172.9" rx="3.10" ry="2.80" fill="none" stroke="#000" stroke-width="1.05"/>
<ellipse cx="508.8" cy="183.2" rx="3.10" ry="2.80" fill="none" stroke="#000" stroke-width="1.05"/>
<ellipse cx="507.6" cy="188.6" rx="3.10" ry="2.80" fill="none" stroke="#000" stroke-width="1.05"/>
<ellipse cx="507.6" cy="193.1" rx="3.10" ry="2.80" fill="none" stroke="#000" stroke-width="1.05"/>
<ellipse cx="325.1" cy="347.2" rx="3.10" ry="2.80" fill="none" stroke="#000" stroke-width="1.05"/>
<ellipse cx="325.1" cy="368.3" rx="3.10" ry="2.80" fill="none" stroke="#000" stroke-width="1.05"/>
<ellipse cx="325.1" cy="384.7" rx="3.10" ry="2.80" fill="none" stroke="#000" stroke-width="1.05"/>
<ellipse cx="342.8" cy="322.7" rx="3.10" ry="2.80" fill="none" stroke="#000" stroke-width="1.05"/>
<ellipse cx="342.8" cy="347.4" rx="3.10" ry="2.80" fill="none" stroke="#000" stroke-width="1.05"/>
<ellipse cx="342.8" cy="367.0" rx="3.10" ry="2.80" fill="none" stroke="#000" stroke-width="1.05"/>
<ellipse cx="358.3" cy="311.6" rx="3.10" ry="2.80" fill="none" stroke="#000" stroke-width="1.05"/>
<ellipse cx="358.3" cy="341.6" rx="3.10" ry="2.80" fill="none" stroke="#000" stroke-width="1.05"/>
<ellipse cx="358.3" cy="357.1" rx="3.10" ry="2.80" fill="none" stroke="#000" stroke-width="1.05"/>
<ellipse cx="375.1" cy="298.8" rx="3.10" ry="2.80" fill="none" stroke="#000" stroke-width="1.05"/>
<ellipse cx="375.1" cy="305.1" rx="3.10" ry="2.80" fill="none" stroke="#000" stroke-width="1.05"/>
<ellipse cx="375.1" cy="372.4" rx="3.10" ry="2.80" fill="none" stroke="#000" stroke-width="1.05"/>
<ellipse cx="391.4" cy="277.3" rx="3.10" ry="2.80" fill="none" stroke="#000" stroke-width="1.05"/>
<ellipse cx="391.8" cy="301.9" rx="3.10" ry="2.80" fill="none" stroke="#000" stroke-width="1.05"/>
<ellipse cx="391.8" cy="304.9" rx="3.10" ry="2.80" fill="none" stroke="#000" stroke-width="1.05"/>
<ellipse cx="408.4" cy="323.8" rx="3.10" ry="2.80" fill="none" stroke="#000" stroke-width="1.05"/>
<ellipse cx="408.4" cy="329.5" rx="3.10" ry="2.80" fill="none" stroke="#000" stroke-width="1.05"/>
<ellipse cx="424.8" cy="321.4" rx="3.10" ry="2.80" fill="none" stroke="#000" stroke-width="1.05"/>
<ellipse cx="424.8" cy="357.8" rx="3.10" ry="2.80" fill="none" stroke="#000" stroke-width="1.05"/>
<ellipse cx="424.8" cy="359.7" rx="3.10" ry="2.80" fill="none" stroke="#000" stroke-width="1.05"/>
<ellipse cx="424.8" cy="372.6" rx="3.10" ry="2.80" fill="none" stroke="#000" stroke-width="1.05"/>
<ellipse cx="441.3" cy="362.6" rx="3.10" ry="2.80" fill="none" stroke="#000" stroke-width="1.05"/>
<ellipse cx="441.8" cy="374.9" rx="3.10" ry="2.80" fill="none" stroke="#000" stroke-width="1.05"/>
<ellipse cx="441.8" cy="375.8" rx="3.10" ry="2.80" fill="none" stroke="#000" stroke-width="1.05"/>
<ellipse cx="441.5" cy="388.0" rx="3.10" ry="2.80" fill="none" stroke="#000" stroke-width="1.05"/>
<ellipse cx="458.0" cy="318.6" rx="3.10" ry="2.80" fill="none" stroke="#000" stroke-width="1.05"/>
<ellipse cx="458.0" cy="320.5" rx="3.10" ry="2.80" fill="none" stroke="#000" stroke-width="1.05"/>
<ellipse cx="458.9" cy="349.7" rx="3.10" ry="2.80" fill="none" stroke="#000" stroke-width="1.05"/>
<ellipse cx="458.0" cy="379.1" rx="3.10" ry="2.80" fill="none" stroke="#000" stroke-width="1.05"/>
<ellipse cx="474.7" cy="238.4" rx="3.10" ry="2.80" fill="none" stroke="#000" stroke-width="1.05"/>
<ellipse cx="474.7" cy="242.8" rx="3.10" ry="2.80" fill="none" stroke="#000" stroke-width="1.05"/>
<ellipse cx="475.4" cy="311.8" rx="3.10" ry="2.80" fill="none" stroke="#000" stroke-width="1.05"/>
<ellipse cx="474.5" cy="373.6" rx="3.10" ry="2.80" fill="none" stroke="#000" stroke-width="1.05"/>
<ellipse cx="492.3" cy="285.3" rx="3.10" ry="2.80" fill="none" stroke="#000" stroke-width="1.05"/>
<ellipse cx="492.3" cy="318.3" rx="3.10" ry="2.80" fill="none" stroke="#000" stroke-width="1.05"/>
<ellipse cx="492.3" cy="327.1" rx="3.10" ry="2.80" fill="none" stroke="#000" stroke-width="1.05"/>
<ellipse cx="492.3" cy="362.7" rx="3.10" ry="2.80" fill="none" stroke="#000" stroke-width="1.05"/>
<ellipse cx="507.7" cy="356.9" rx="3.10" ry="2.80" fill="none" stroke="#000" stroke-width="1.05"/>
<ellipse cx="508.8" cy="378.8" rx="3.10" ry="2.80" fill="none" stroke="#000" stroke-width="1.05"/>
<ellipse cx="507.7" cy="384.5" rx="3.10" ry="2.80" fill="none" stroke="#000" stroke-width="1.05"/>
<ellipse cx="507.7" cy="390.0" rx="3.10" ry="2.80" fill="none" stroke="#000" stroke-width="1.05"/>
</svg></body></html>
